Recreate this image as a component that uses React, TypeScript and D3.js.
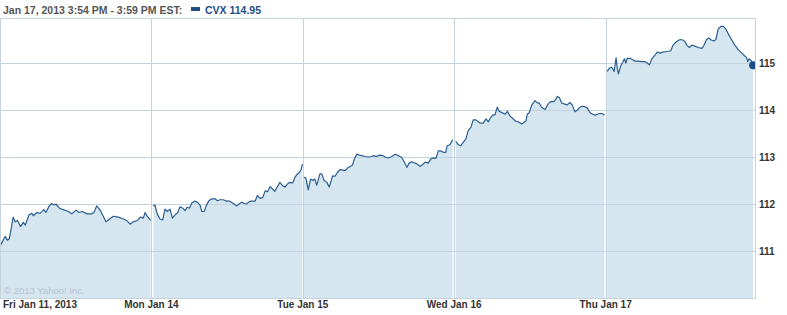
import React from "react";
import * as d3 from "d3";

// [minutes after 9:30 open, price]
const fri: [number, number][] = [
  [2, 111.13], [13, 111.31], [19, 111.23], [24, 111.26], [34, 111.72], [39, 111.62], [45, 111.65],
  [53, 111.52], [60, 111.61], [65, 111.55], [75, 111.77], [82, 111.8], [86, 111.75], [95, 111.82],
  [103, 111.8], [113, 111.88], [118, 111.82], [127, 111.96], [133, 112.01], [139, 111.98], [144, 112.0],
  [153, 111.91], [163, 111.88], [176, 111.84], [185, 111.79], [196, 111.87], [204, 111.82], [213, 111.84],
  [219, 111.81], [225, 111.79], [236, 111.79], [242, 111.82], [249, 111.96], [258, 111.87], [266, 111.74],
  [273, 111.62], [282, 111.68], [292, 111.74], [305, 111.72], [318, 111.68], [326, 111.65], [335, 111.57],
  [343, 111.62], [354, 111.65], [362, 111.72], [369, 111.7], [374, 111.82], [379, 111.74], [388, 111.65],
];
const mon: [number, number][] = [
  [5, 111.96], [9, 111.98], [15, 111.79], [22, 111.68], [29, 111.66], [35, 111.89], [41, 111.84],
  [48, 111.89], [54, 111.7], [61, 111.77], [67, 111.81], [74, 111.94], [81, 111.91], [87, 111.86],
  [92, 111.93], [98, 111.91], [104, 112.02], [111, 112.06], [118, 112.04], [125, 111.98], [130, 111.84],
  [136, 111.84], [141, 111.96], [148, 112.07], [155, 112.11], [164, 112.11], [170, 112.07], [177, 112.09],
  [185, 112.09], [194, 112.06], [202, 112.06], [211, 112.01], [220, 111.96], [226, 112.0], [233, 112.04],
  [239, 112.01], [245, 112.0], [252, 112.05], [258, 112.06], [267, 112.06], [273, 112.18], [280, 112.12],
  [287, 112.14], [293, 112.28], [299, 112.26], [306, 112.37], [312, 112.32], [318, 112.27], [324, 112.36],
  [331, 112.46], [338, 112.39], [344, 112.36], [351, 112.43], [357, 112.46], [364, 112.45], [370, 112.57],
  [376, 112.64], [381, 112.67], [386, 112.74], [389, 112.85],
];
const tue: [number, number][] = [
  [3, 112.57], [8, 112.55], [14, 112.3], [20, 112.53], [26, 112.5], [31, 112.53], [36, 112.4],
  [44, 112.64], [49, 112.64], [55, 112.5], [62, 112.46], [68, 112.36], [77, 112.6], [83, 112.59],
  [89, 112.67], [96, 112.73], [103, 112.72], [109, 112.71], [116, 112.77], [122, 112.8], [128, 112.83],
  [133, 112.96], [139, 113.06], [146, 113.04], [152, 113.03], [160, 113.01], [169, 113.0], [177, 113.01],
  [183, 113.03], [190, 113.01], [197, 113.04], [206, 113.03], [214, 112.99], [220, 112.98], [229, 113.01],
  [238, 113.06], [246, 113.03], [255, 112.99], [261, 112.9], [268, 112.78], [274, 112.87], [281, 112.9],
  [289, 112.87], [295, 112.85], [302, 112.8], [309, 112.84], [315, 112.89], [323, 112.87], [330, 112.96],
  [336, 112.98], [343, 112.97], [349, 113.13], [355, 113.13], [362, 113.1], [368, 113.1], [372, 113.24],
  [379, 113.26], [386, 113.37],
];
const wed: [number, number][] = [
  [4, 113.33], [11, 113.26], [17, 113.24], [23, 113.31], [30, 113.38], [36, 113.56], [43, 113.63],
  [49, 113.79], [56, 113.79], [62, 113.75], [68, 113.72], [75, 113.72], [82, 113.81], [88, 113.75],
  [94, 113.84], [99, 113.89], [105, 113.9], [111, 114.06], [116, 113.97], [122, 113.95], [131, 113.91],
  [137, 113.97], [144, 113.87], [151, 113.82], [157, 113.77], [165, 113.75], [174, 113.7], [180, 113.74],
  [185, 113.77], [188, 113.91], [193, 113.94], [200, 114.11], [208, 114.2], [214, 114.15], [219, 114.15],
  [225, 114.06], [234, 114.01], [242, 114.13], [249, 114.18], [257, 114.18], [262, 114.23], [266, 114.29],
  [271, 114.26], [277, 114.15], [283, 114.13], [291, 114.11], [298, 114.16], [304, 114.11], [311, 113.96],
  [317, 114.0], [324, 114.06], [331, 114.08], [337, 114.07], [343, 114.04], [350, 113.94], [357, 113.91],
  [363, 113.89], [369, 113.91], [376, 113.93], [382, 113.92], [387, 113.89],
];
const thu: [number, number][] = [
  [4, 114.82], [10, 114.89], [16, 114.91], [22, 114.82], [27, 115.11], [30, 114.89], [33, 114.77],
  [39, 114.94], [43, 115.0], [46, 115.05], [49, 115.09], [52, 115.0], [56, 115.1], [63, 115.1],
  [70, 115.07], [76, 115.04], [84, 115.04], [93, 115.03], [101, 115.03], [107, 115.0], [113, 114.96],
  [119, 115.09], [127, 115.17], [133, 115.23], [140, 115.21], [147, 115.23], [153, 115.24], [162, 115.25],
  [168, 115.26], [173, 115.37], [179, 115.43], [185, 115.47], [192, 115.5], [199, 115.49], [205, 115.45],
  [210, 115.37], [216, 115.33], [222, 115.38], [230, 115.36], [239, 115.33], [248, 115.31], [253, 115.37],
  [260, 115.5], [266, 115.53], [272, 115.49], [279, 115.47], [284, 115.5], [290, 115.72], [297, 115.78],
  [303, 115.78], [310, 115.72], [316, 115.62], [325, 115.49], [333, 115.38], [342, 115.28], [351, 115.21],
  [357, 115.16], [363, 115.12], [366, 115.03], [370, 115.09], [375, 115.05], [380, 114.95],
];
const days = [fri, mon, tue, wed, thu];
const dayLabels = ["Fri Jan 11, 2013", "Mon Jan 14", "Tue Jan 15", "Wed Jan 16", "Thu Jan 17"];
const yTicks = [111, 112, 113, 114, 115];
const headerText = "Jan 17, 2013 3:54 PM - 3:59 PM EST:";
const seriesLabel = "CVX 114.95";
const SESSION = 390;

export default function App() {
  const W = 787, H = 315;
  const left = 0.5, right = 755.5, top = 18.5, bottom = 298.5;
  const x = d3.scaleLinear().domain([0, SESSION * 5]).range([0, 757]);
  const y = d3.scaleLinear().domain([110, 116]).range([298, 16]);
  const font = "'Liberation Sans', Arial, sans-serif";

  const area = d3.area<[number, number]>().x(d => x(d[0])).y0(bottom).y1(d => y(d[1]));
  const line = d3.line<[number, number]>().x(d => x(d[0])).y(d => y(d[1]));

  const series = days.map((pts, i) => pts.map(([m, v]) => [i * SESSION + m, v] as [number, number]));
  const last = series[4][series[4].length - 1];

  return (
    <svg width={W} height={H} style={{ position: "absolute", left: 0, top: 0, background: "#fff" }}>
      <defs>
        <clipPath id="plot">
          <rect x={left} y={top} width={right - left} height={bottom - top} />
        </clipPath>
      </defs>
      <text x={3} y={14} fontFamily={font} fontWeight="bold" fontSize={10.5} fill="#555">{headerText}</text>
      <rect x={191} y={7} width={9} height={4} fill="#1f4e89" />
      <text x={205} y={14} fontFamily={font} fontWeight="bold" fontSize={10.5} fill="#1f4e89">{seriesLabel}</text>

      <g clipPath="url(#plot)">
        {[1, 2, 3, 4].map(i => (
          <line key={i} x1={Math.round(x(i * SESSION)) + 0.5} x2={Math.round(x(i * SESSION)) + 0.5} y1={top} y2={bottom} stroke="#c6d3dc" />
        ))}
        {series.map((s, i) => (
          <path key={"a" + i} d={area(s) || ""} fill="#d6e6f1" />
        ))}
        {yTicks.map(t => (
          <line key={t} x1={left} x2={right} y1={Math.round(y(t)) + 0.5} y2={Math.round(y(t)) + 0.5} stroke="#c3d4e0" />
        ))}
        {series.map((s, i) => (
          <path key={"l" + i} d={line(s) || ""} fill="none" stroke="#2b5d91" strokeWidth={1.2} strokeLinejoin="round" />
        ))}
        <circle cx={x(last[0])} cy={y(last[1])} r={4} fill="#1b4d86" />
      </g>
      <rect x={left} y={top} width={right - left} height={bottom - top} fill="none" stroke="#c6d3dc" />

      <text x={4} y={294} fontFamily={font} fontSize={9.5} fill="#b3c3cf">© 2013 Yahoo! Inc.</text>

      {yTicks.map(t => (
        <text key={t} x={759} y={y(t) + 3.5} fontFamily={font} fontWeight="bold" fontSize={10} fill="#333">{t}</text>
      ))}
      {dayLabels.map((lab, i) => (
        <text key={lab} x={i === 0 ? 3 : x(i * SESSION)} y={308} textAnchor={i === 0 ? "start" : "middle"}
          fontFamily={font} fontWeight="bold" fontSize={10} fill="#333">{lab}</text>
      ))}
    </svg>
  );
}
